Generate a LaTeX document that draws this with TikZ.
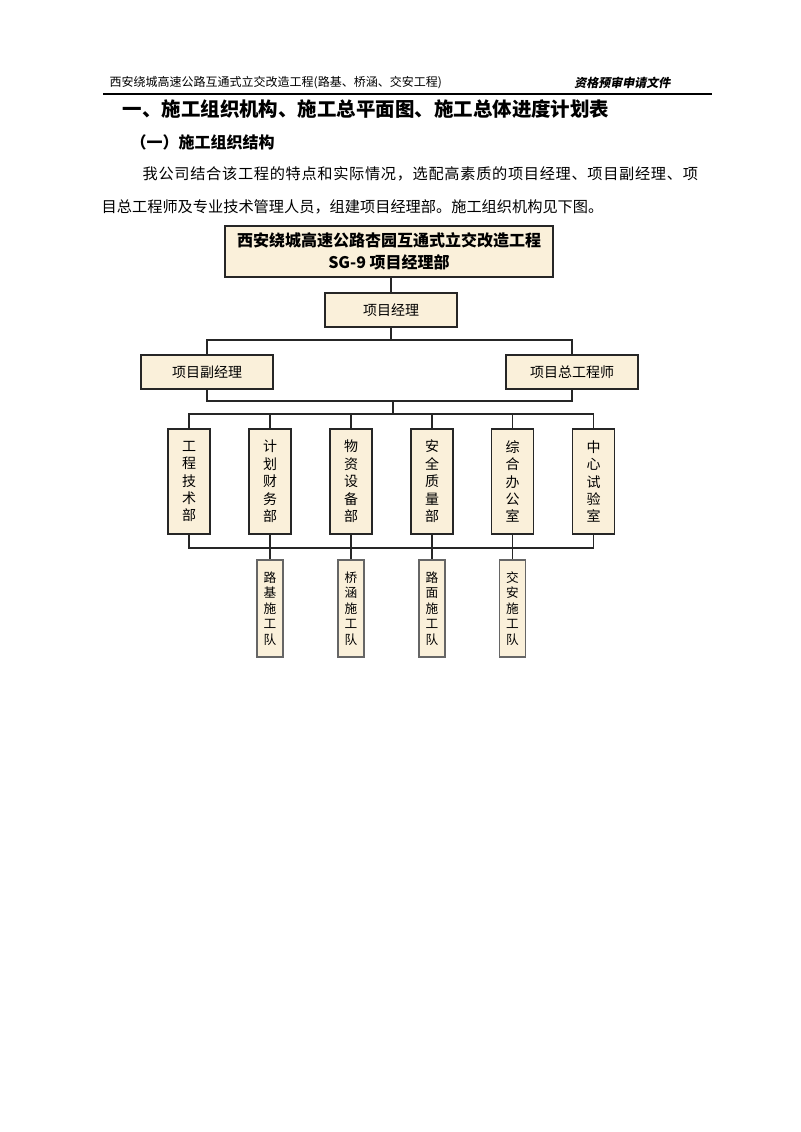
\documentclass[tikz,border=0pt]{standalone}
\usepackage{fontspec}
\setmainfont{Noto Sans CJK SC}
\newfontfamily\hdrfont{Noto Sans CJK SC}[UprightFeatures={FakeSlant=0.2}, BoldFeatures={FakeSlant=0.2}]
\usepackage{tikz}
\definecolor{parch}{RGB}{250,240,218}
\tikzset{
  box/.style={draw=black!85, line width=1.1pt, fill=parch, inner sep=0pt},
  wide/.style={box, minimum width=99pt, minimum height=25.5pt, font=\fontsize{10.5pt}{12pt}\selectfont},
  dept/.style={box, minimum width=31.5pt, minimum height=78.75pt, align=center,
    font=\fontsize{10.5pt}{13.1pt}\selectfont},
  team/.style={box, line width=0.8pt, draw=black!60, minimum width=19.5pt, minimum height=72.75pt,
    align=center, font=\fontsize{9.5pt}{11.6pt}\selectfont},
  link/.style={draw=black!85, line width=0.8pt}
}
\begin{document}
\begin{tikzpicture}[x=0.75pt, y=-0.75pt]
  \useasboundingbox (0,0) rectangle (800,1132);
  % page header
  \node[anchor=west, font=\fontsize{9pt}{10pt}\selectfont] (hdl) at (105,83) {西安绕城高速公路互通式立交改造工程(路基、桥涵、交安工程)};
  \node[anchor=east, font=\fontsize{9pt}{10pt}\hdrfont\bfseries] (hdr) at (675,83) {资格预审申请文件};
  \draw[line width=1pt] (103,94) coordinate (hl) -- (712,94) coordinate (hr);
  % headings and text
  \node[anchor=west, font=\fontsize{14.6pt}{16pt}\bfseries] (title) at (118,109) {一、施工组织机构、施工总平面图、施工总体进度计划表};
  \node[anchor=west, font=\fontsize{12pt}{14pt}\bfseries] (sub) at (126,142) {（一）施工组织结构};
  \node[anchor=west, font=\fontsize{11.4pt}{14pt}\selectfont\addfontfeature{LetterSpace=4.5}] (par1) at (138,174) {我公司结合该工程的特点和实际情况，选配高素质的项目经理、项目副经理、项};
  \node[anchor=west, font=\fontsize{11.4pt}{14pt}\selectfont] (par2) at (97,207) {目总工程师及专业技术管理人员，组建项目经理部。施工组织机构见下图。};

  % organisation chart
  \node[box, minimum width=246pt, minimum height=38.25pt, align=center,
    font=\fontsize{12pt}{17pt}\bfseries] (hq) at (389,251.5) {西安绕城高速公路杏园互通式立交改造工程\\SG-9 项目经理部};
  \node[wide] (pm) at (391,310) {项目经理};
  \node[wide] (dep) at (207,372) {项目副经理};
  \node[wide] (chief) at (572,372) {项目总工程师};

  \node[dept] (d1) at (189,481.5) {工\\程\\技\\术\\部};
  \node[dept] (d2) at (270,481.5) {计\\划\\财\\务\\部};
  \node[dept] (d3) at (351,481.5) {物\\资\\设\\备\\部};
  \node[dept] (d4) at (432,481.5) {安\\全\\质\\量\\部};
  \node[dept] (d5) at (512.5,481.5) {综\\合\\办\\公\\室};
  \node[dept] (d6) at (593.5,481.5) {中\\心\\试\\验\\室};

  \node[team] (t1) at (270,608.5) {路\\基\\施\\工\\队};
  \node[team] (t2) at (351,608.5) {桥\\涵\\施\\工\\队};
  \node[team] (t3) at (432,608.5) {路\\面\\施\\工\\队};
  \node[team] (t4) at (512.5,608.5) {交\\安\\施\\工\\队};

  \coordinate (bus1) at (391,340);
  \coordinate (bus2) at (393,401);
  \coordinate (bus3) at (393,414);
  \coordinate (bus4) at (393,548);

  % connectors
  \draw[link] (pm.north) -- (pm.north |- hq.south);
  \draw[link] (pm.south) -- (bus1);
  \draw[link] (dep.north) |- (bus1) -| (chief.north);
  \draw[link] (dep.south) |- (bus2) -| (chief.south);
  \draw[link] (bus2) -- (bus3);
  \draw[link] (d1.north) |- (bus3) -| (d6.north);
  \foreach \d in {d2,d3,d4,d5}
    \draw[link] (\d.north) -- (\d.north |- bus3);
  \draw[link] (d1.south) |- (bus4) -| (d6.south);
  \foreach \d/\t in {d2/t1,d3/t2,d4/t3,d5/t4}
    \draw[link] (\d.south) -- (\t.north);
\end{tikzpicture}
\end{document}
